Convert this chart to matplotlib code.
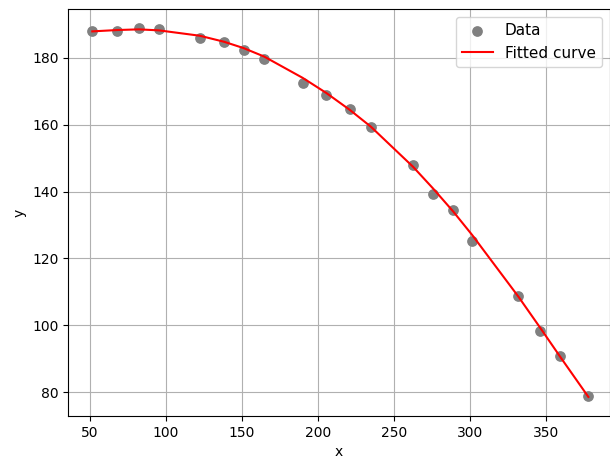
import matplotlib
matplotlib.use("Agg")
import matplotlib.pyplot as plt

# data points
x_data = [51.5, 68, 82.2, 95.4, 122.2, 138.2, 151.1, 164.5, 190, 205.5,
          221.1, 234.9, 262.7, 275.9, 289, 301.8, 332, 346.5, 359.7, 378.1]
y_data = [187.9, 187.9, 189.0, 188.5, 185.9, 184.8, 182.4, 179.7, 172.4, 169.0,
          164.7, 159.2, 148.0, 139.3, 134.6, 125.3, 108.9, 98.2, 90.8, 79.0]

# fitted curve values at the same x positions
y_fit = [187.9, 188.3, 188.5, 188.2, 186.6, 184.8, 182.9, 180.4, 174.0, 169.5,
         164.4, 159.4, 147.4, 140.9, 134.1, 126.9, 108.6, 99.2, 90.5, 78.6]

fig = plt.figure(figsize=(6.1, 4.65), dpi=100)
ax = fig.add_axes([68.3 / 610, 49 / 465, (609.5 - 68.3) / 610, (416 - 9.3) / 465])

ax.scatter(x_data, y_data, color="gray", s=45, label="Data", zorder=2)
ax.plot(x_data, y_fit, color="red", linewidth=1.5, label="Fitted curve", zorder=3)

ax.set_xlim(35.7, 392.0)
ax.set_ylim(72.9, 194.5)
ax.set_xlabel("x")
ax.set_ylabel("y")
ax.grid(True)
ax.legend(loc="upper right", fontsize=11)

fig.savefig("out.png", dpi=100)
